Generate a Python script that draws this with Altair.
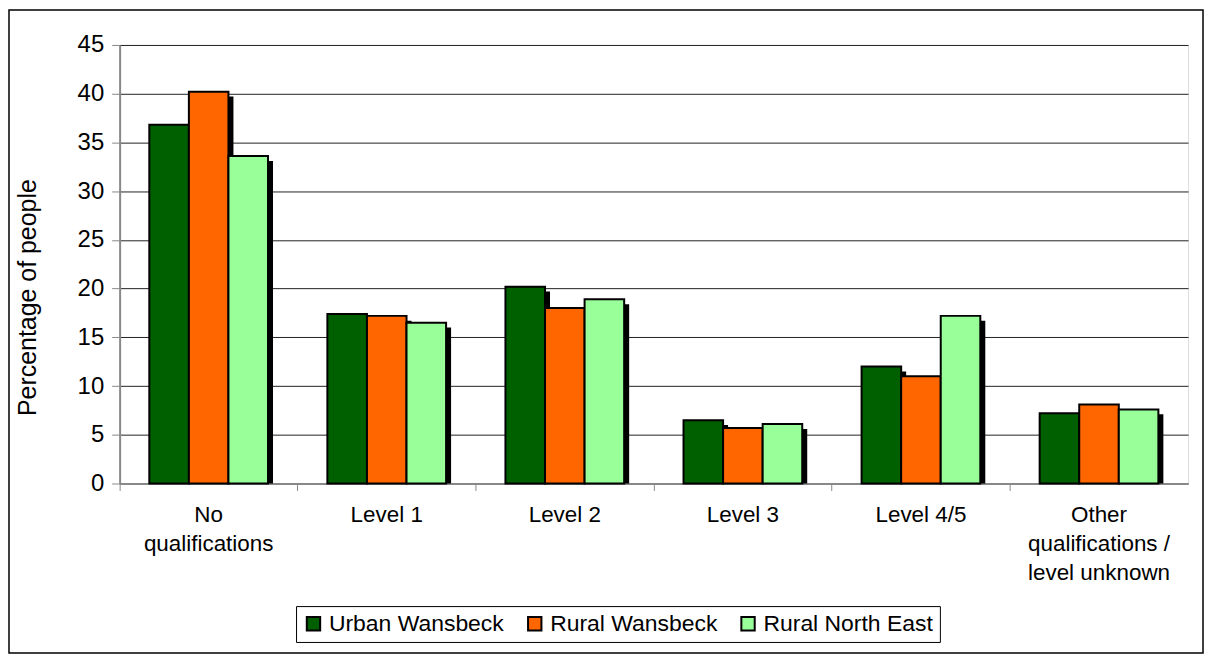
import json
import altair as alt
import pandas as pd

categories = ["No qualifications", "Level 1", "Level 2", "Level 3", "Level 4/5",
              "Other qualifications / level unknown"]
category_lines = [["No", "qualifications"], ["Level 1"], ["Level 2"], ["Level 3"],
                  ["Level 4/5"], ["Other", "qualifications /", "level unknown"]]
series = ["Urban Wansbeck", "Rural Wansbeck", "Rural North East"]
urban_wansbeck = [36.8, 17.4, 20.2, 6.5, 12.0, 7.2]
rural_wansbeck = [40.2, 17.2, 18.0, 5.7, 11.0, 8.1]
rural_north_east = [33.6, 16.5, 18.9, 6.1, 17.2, 7.6]
colors = ["#006000", "#FF6600", "#99FF99"]
y_ticks = [0, 5, 10, 15, 20, 25, 30, 35, 40, 45]

rows = []
for s, vals in zip(series, [urban_wansbeck, rural_wansbeck, rural_north_east]):
    for c, v in zip(categories, vals):
        rows.append({"category": c, "series": s, "value": v})
df = pd.DataFrame(rows)

# label expression for multi-line category labels
expr = "datum.label"
for c, lines in reversed(list(zip(categories, category_lines))):
    expr = f"datum.label == {json.dumps(c)} ? {json.dumps(lines)} : ({expr})"

FONT = "Liberation Sans"
Y_TITLE = "Percentage of people"

x_enc = alt.X(
    "category:N", sort=categories, title=None,
    scale=alt.Scale(paddingInner=0, paddingOuter=0),
    axis=alt.Axis(labelExpr=expr, labelAngle=0, labelFontSize=22.5, labelLineHeight=29,
                  labelPadding=13, labelBaseline="top", tickSize=7, bandPosition=0,
                  domainWidth=1.5, tickWidth=1, labelFont=FONT),
)

y_axis = alt.Axis(values=y_ticks, labelFontSize=24, tickSize=8, labelPadding=8,
                  title=Y_TITLE, titleFontSize=25, titleFontWeight="normal",
                  titleX=-92, titleY=253, titleAlign="center", titleBaseline="middle",
                  titleAngle=270, domainWidth=2, gridColor="#222222", gridWidth=1,
                  labelFont=FONT, titleFont=FONT)
y_scale = alt.Scale(domain=[0, 45], nice=False)

base = alt.Chart(df)

shadow = base.mark_bar(color="black").encode(
    x=x_enc,
    xOffset=alt.XOffset("series:N", sort=series,
                        scale=alt.Scale(paddingInner=0, paddingOuter=0.75, align=0.584)),
    y=alt.Y("shadow_top:Q", scale=y_scale, title=Y_TITLE, axis=y_axis),
    y2=alt.datum(0),
).transform_calculate(shadow_top="datum.value - 0.5")

bars = base.mark_bar(stroke="black", strokeWidth=2).encode(
    x=x_enc,
    xOffset=alt.XOffset("series:N", sort=series,
                        scale=alt.Scale(paddingInner=0, paddingOuter=0.75)),
    y=alt.Y("value:Q", scale=y_scale, title=Y_TITLE, axis=y_axis),
    color=alt.Color(
        "series:N", sort=series,
        scale=alt.Scale(domain=series, range=colors),
        legend=alt.Legend(orient="none", legendX=177, legendY=563, direction="horizontal",
                          title=None, labelFontSize=23, labelFont=FONT, labelColor="black",
                          labelLimit=400, symbolType="square", symbolSize=180,
                          symbolStrokeColor="black", symbolStrokeWidth=2,
                          strokeColor="black", fillColor="white",
                          padding=6, columnPadding=19, labelOffset=4),
    ),
)

border = alt.Chart(pd.DataFrame({"a": [0]})).mark_rect(
    fill=None, stroke="black", strokeWidth=1.5
).encode(
    x=alt.value(-111), x2=alt.value(1087),
    y=alt.value(-35), y2=alt.value(610),
)

chart = alt.layer(border, shadow, bars).resolve_scale(xOffset="independent").properties(
    width=1072, height=440,
    padding={"left": 112, "top": 36, "right": 17, "bottom": 172},
    autosize=alt.AutoSizeParams(type="none"),
).configure_view(stroke="black", strokeWidth=1.5).configure_axis(
    labelColor="black", titleColor="black", domainColor="black", tickColor="black",
).configure(background="white")

chart.save("out.html", embed_options={"renderer": "svg", "actions": False})
